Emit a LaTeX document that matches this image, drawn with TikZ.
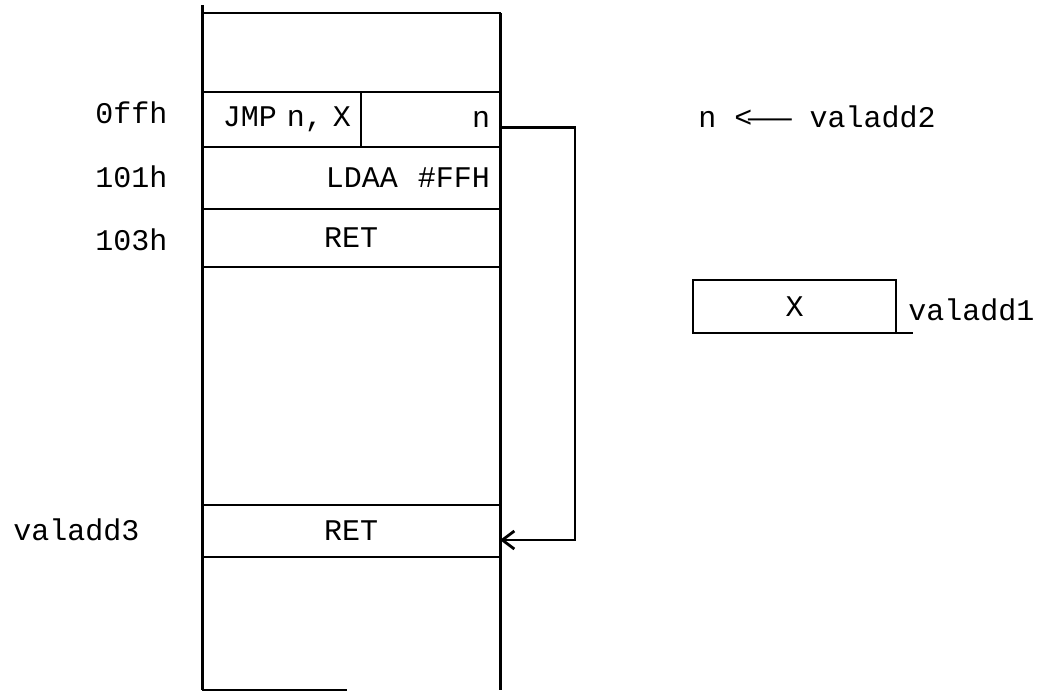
\documentclass[tikz,border=0pt]{standalone}
\usepackage{fontspec}
\setmonofont{Liberation Mono}
\usetikzlibrary{positioning,arrows.meta}
\tikzstyle{cell} = [rectangle, draw=black, line width=1.1pt, anchor=north west,
inner xsep=5pt, inner ysep=0pt, outer sep=0pt, text centered]
\tikzstyle{wall} = [line width=1.5pt]
\tikzstyle{addr} = [anchor=west, inner sep=0pt]
\tikzstyle{arrow} = [line width=1.4pt,-{Straight Barb[length=6pt,width=9pt]}]

\begin{document}
\begin{tikzpicture}[x=1pt,y=-1pt,font=\ttfamily\fontsize{15}{18}\selectfont]
              \useasboundingbox (0,0) rectangle (526,346);
              % memory column
              \node (top) [cell, minimum width=149pt, minimum height=39.5pt] at (101,6.5) {};
              \node (jmp) [cell, minimum width=79.5pt, minimum height=27.5pt,
              text width=69.5pt, align=right, below right=0pt and 0pt of top.south west] {JMP n, X};
              \node (ncell) [cell, minimum width=69.5pt, minimum height=27.5pt,
              text width=59.5pt, align=right, right=0pt of jmp] {n};
              \node (r101) [cell, minimum width=149pt, minimum height=31pt,
              text width=139pt, align=right, below right=0pt and 0pt of jmp.south west] {LDAA\ \ \#FFH};
              \node (r103) [cell, minimum width=149pt, minimum height=29pt,
              below right=0pt and 0pt of r101.south west] {RET};
              \node (ret2) [cell, minimum width=149pt, minimum height=26pt] at (101,252.5) {RET};

              \draw [wall] (101,2.5) -- (101,345);
              \draw [wall] (250,6.5) -- (250,345);
              \draw [line width=0.8pt] (101,345) -- (173.5,345);

              % addresses
              \node (l0ff) [addr] at (47.5,56.5) {0ffh};
              \node (l101) [addr] at (47.5,88.5) {101h};
              \node (l103) [addr] at (47.5,120) {103h};
              \node (l3) [addr] at (6.5,265) {valadd3};

              % right side
              \node (nval) [addr] at (349,58.5) {n <\kern-2pt\scalebox{2.4}[1]{—}\ valadd2};
              \node (xbox) [cell, minimum width=101.5pt, minimum height=26.5pt] at (346.5,140) {X};
              \node (l1) [addr] at (454,155) {valadd1};
              \draw [line width=1.1pt] (xbox.south east) -- ++(8.5,0);

              \draw [arrow] ([yshift=-4pt]ncell.east) -- ++(37.5,0) |- ([yshift=-4.5pt]ret2.east);
            \end{tikzpicture}
\end{document}
